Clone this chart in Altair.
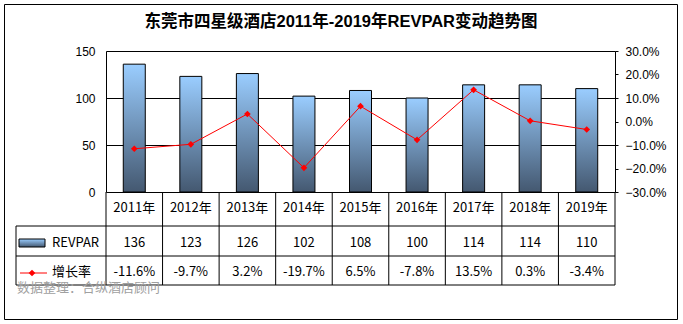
import altair as alt
import pandas as pd

years = ["2011年", "2012年", "2013年", "2014年", "2015年", "2016年", "2017年", "2018年", "2019年"]
revpar = [136, 123, 126, 102, 108, 100, 114, 114, 110]
growth = [-0.116, -0.097, 0.032, -0.197, 0.065, -0.078, 0.135, 0.003, -0.034]

title_text = "东莞市四星级酒店2011年-2019年REVPAR变动趋势图"
source_text = "数据整理：合纵酒店顾问"
row_labels = ["REVPAR", "增长率"]

df = pd.DataFrame({"year": years, "revpar": revpar, "growth": growth})
df["growth_label"] = [f"{g*100:.1f}%" for g in growth]
df["revpar_label"] = [str(v) for v in revpar]

W, H = 509, 141
CJK = "Noto Sans CJK SC"
LAT = "Liberation Sans"

grad = alt.Gradient(
    gradient="linear",
    stops=[alt.GradientStop(color="#9ACDFF", offset=0),
           alt.GradientStop(color="#445870", offset=1)],
    x1=0, x2=0, y1=0, y2=1,
)

xenc = alt.X("year:N", sort=years, axis=None,
             scale=alt.Scale(paddingInner=0, paddingOuter=0))

base = alt.Chart(df)

bars = base.mark_bar(size=22, color=grad, stroke="black", strokeWidth=1).encode(
    x=xenc,
    y=alt.Y("revpar:Q", title=None,
            scale=alt.Scale(domain=[0, 150], nice=False),
            axis=alt.Axis(values=[0, 50, 100, 150], grid=True, gridColor="black",
                          gridOpacity=1, gridWidth=1, ticks=False, tickSize=0,
                          labelPadding=11, domainColor="black", labelColor="black",
                          labelFont=LAT, labelFontSize=12)),
)

right_axis = alt.Axis(orient="right", format=".1%",
                      values=[-0.3, -0.2, -0.1, 0, 0.1, 0.2, 0.3],
                      grid=False, tickSize=3, tickColor="black",
                      labelPadding=7, domainColor="black", labelColor="black",
                      labelFont=LAT, labelFontSize=12)
yr = alt.Y("growth:Q", title=None, scale=alt.Scale(domain=[-0.3, 0.3], nice=False),
           axis=right_axis)

line = base.mark_line(color="#FF0000", strokeWidth=1).encode(x=xenc, y=yr)
points = base.mark_point(shape="diamond", filled=True, color="#FF0000", size=45,
                         opacity=1).encode(x=xenc, y=yr)

right_layer = alt.layer(line, points)

# table
text_style = dict(font=CJK, fontSize=13, color="black", align="center", baseline="middle")
hdr = base.mark_text(**text_style).encode(x=xenc, y=alt.value(157), text="year:N")
row1 = base.mark_text(**text_style).encode(x=xenc, y=alt.value(192), text="revpar_label:N")
row2 = base.mark_text(**text_style).encode(x=xenc, y=alt.value(221), text="growth_label:N")

vlines = base.mark_rule(color="black", strokeWidth=1).encode(
    x=alt.X("year:N", sort=years, axis=None, bandPosition=0,
            scale=alt.Scale(paddingInner=0, paddingOuter=0)),
    y=alt.value(H), y2=alt.value(234))

one = alt.Data(values=[{"k": 1}])
hl = pd.DataFrame({"y": [175, 205, 234]})
hlines = alt.Chart(hl).mark_rule(color="black", strokeWidth=1).encode(
    x=alt.value(-90), x2=alt.value(W), y=alt.Y("y:Q", scale=None))
right_edge = alt.Chart(one).mark_rule(color="black").encode(
    x=alt.value(W), y=alt.value(H), y2=alt.value(234))
left_edge = alt.Chart(one).mark_rule(color="black").encode(
    x=alt.value(-90), y=alt.value(175), y2=alt.value(234))

lab_df = pd.DataFrame({"label": row_labels, "y": [192, 221]})
labels = alt.Chart(lab_df).mark_text(font=CJK, fontSize=13, color="black",
                                      align="left", baseline="middle").encode(
    x=alt.value(-54), y=alt.Y("y:Q", scale=None), text="label:N")

swatch = alt.Chart(one).mark_rect(color=grad, stroke="black", strokeWidth=1).encode(
    x=alt.value(-87), x2=alt.value(-61), y=alt.value(188), y2=alt.value(196))
leg_line = alt.Chart(one).mark_rule(color="#FF0000", strokeWidth=1).encode(
    x=alt.value(-86), x2=alt.value(-59), y=alt.value(222))
leg_pt = alt.Chart(one).mark_point(shape="diamond", filled=True, color="#FF0000",
                                   size=45, opacity=1).encode(
    x=alt.value(-74), y=alt.value(222))

src = alt.Chart(alt.Data(values=[{"t": source_text}])).mark_text(
    font=CJK, fontSize=13, color="#A0A0A0", align="left", baseline="middle").encode(
    x=alt.value(-89), y=alt.value(237), text="t:N")

ttl = alt.Chart(alt.Data(values=[{"t": title_text}])).mark_text(
    font="Liberation Sans, Noto Sans CJK SC", fontSize=16.5, fontWeight="bold", color="black",
    align="center", baseline="middle").encode(
    x=alt.value(235), y=alt.value(-29), text="t:N")

frame = alt.Chart(one).mark_rect(fill=None, fillOpacity=0, stroke="black", strokeWidth=1).encode(
    x=alt.value(-101.5), x2=alt.value(571.5), y=alt.value(-46.5), y2=alt.value(268.5))

others = alt.layer(vlines, hlines, right_edge, left_edge,
                   hdr, row1, row2, labels, swatch, leg_line, leg_pt, src, ttl, frame)

chart = alt.layer(
    bars, right_layer, others,
).resolve_scale(y="independent").properties(
    width=W, height=H,
    autosize=alt.AutoSizeParams(type="none"),
    padding={"left": 106, "top": 51, "right": 68, "bottom": 132},
).configure_view(stroke=None).configure(background="white")

chart.save("out.html", embed_options={"renderer": "svg", "actions": False})
